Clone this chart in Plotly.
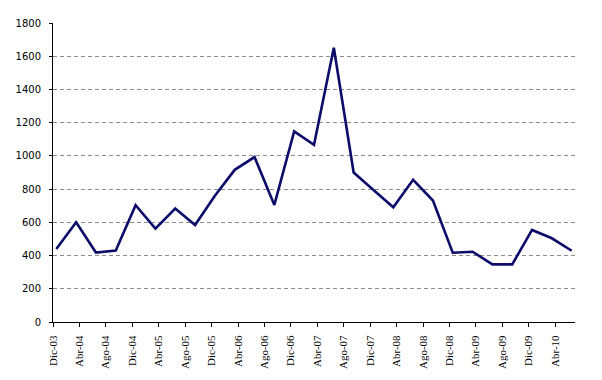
import plotly.graph_objects as go

# month index from Dic-03 (0) every 3 months
month_idx = list(range(0, 79, 3))
values = [440, 600, 418, 430, 703, 562, 683, 584, 760, 916, 993, 705, 1148,
          1067, 1651, 900, 795, 691, 856, 731, 417, 423, 347, 347, 554, 504, 429]

tick_labels = ["Dic-03", "Abr-04", "Ago-04", "Dic-04", "Abr-05", "Ago-05", "Dic-05",
               "Abr-06", "Ago-06", "Dic-06", "Abr-07", "Ago-07", "Dic-07", "Abr-08",
               "Ago-08", "Dic-08", "Abr-09", "Ago-09", "Dic-09", "Abr-10"]
tick_pos = [-0.5 + 4 * k for k in range(len(tick_labels))]

fig = go.Figure()
fig.add_trace(go.Scatter(x=month_idx, y=values, mode="lines",
                         line=dict(color="#0c0c6a", width=2.6), hoverinfo="skip"))

xfont = dict(family="Liberation Serif, Times New Roman, serif", size=11, color="black")
yfont = dict(family="DejaVu Sans, Verdana, sans-serif", size=10, color="black")
fig.update_layout(
    width=594, height=372,
    margin=dict(l=45, r=27, t=15, b=58, pad=0),
    paper_bgcolor="white", plot_bgcolor="white",
    showlegend=False,
    xaxis=dict(range=[-0.5, 78.5], tickmode="array", tickvals=tick_pos, ticktext=tick_labels,
               tickangle=-90, showgrid=False, zeroline=False, showline=True, automargin=False,
               linecolor="black", linewidth=1, ticks="outside", ticklen=4, tickcolor="black",
               tickfont=xfont, ticklabelstandoff=4),
    yaxis=dict(range=[0, 1800], dtick=200, tick0=0, showgrid=True, gridcolor="#8c8c8c",
               gridwidth=1, griddash="4px,3px", zeroline=False, showline=True, automargin=False,
               linecolor="black", linewidth=1, ticks="outside", ticklen=3, tickcolor="black",
               tickfont=yfont, ticklabelstandoff=6),
)
fig.write_html("out.html")
